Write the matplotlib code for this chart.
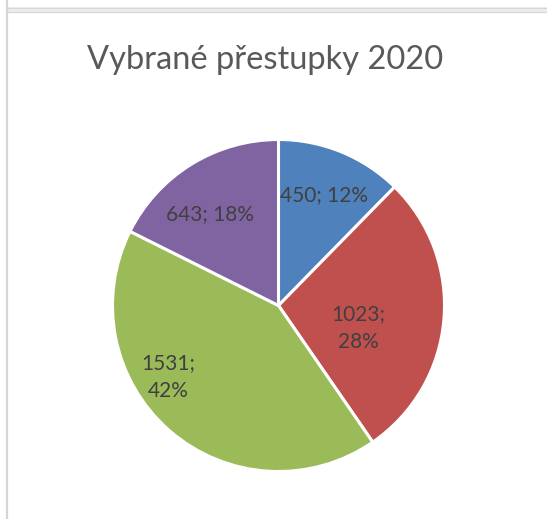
import numpy as np
import matplotlib
matplotlib.use('Agg')
import matplotlib.pyplot as plt
from matplotlib.lines import Line2D
from matplotlib.patches import Rectangle

title = 'Vybrané přestupky 2020'
values = [450, 1023, 1531, 643]
percents = [12, 28, 42, 18]
colors = ['#4F81BD', '#C0504D', '#9BBB59', '#8064A2']
# label placement (fraction of radius, angle shift from wedge middle in degrees)
label_r = [0.72, 0.50, 0.79, 0.69]
label_shift = [0, -11, -16, 5]
label_wrap = [False, True, True, False]

plt.rcParams['font.family'] = ['Lato', 'DejaVu Sans']

W, H = 547, 519
fig = plt.figure(figsize=(W / 100, H / 100), dpi=100)

# sheet frame lines
fig.add_artist(Rectangle((7 / W, 1 - 12 / H), 1, 5 / H, transform=fig.transFigure,
                         facecolor='#eeeeee', edgecolor='none'))
for yy in (7.5, 11.5):
    fig.add_artist(Line2D([7 / W, 1], [1 - yy / H] * 2, transform=fig.transFigure,
                          color='#d6d6d6', lw=0.9))
fig.add_artist(Line2D([6.5 / W] * 2, [0, 1], transform=fig.transFigure,
                      color='#d6d6d6', lw=1.6))

cx, cy, r = 278.5, 305.5, 166
ax = fig.add_axes([(cx - r) / W, (H - cy - r) / H, 2 * r / W, 2 * r / H])
wedges, _ = ax.pie(values, colors=colors, startangle=90, counterclock=False,
                   wedgeprops=dict(edgecolor='white', linewidth=2.2))
ax.set_xlim(-1, 1)
ax.set_ylim(-1, 1)
ax.axis('off')

for w, v, p, lr, sh, wrap in zip(wedges, values, percents, label_r, label_shift, label_wrap):
    mid = np.deg2rad((w.theta1 + w.theta2) / 2 + sh)
    sep = '\n' if wrap else ' '
    ax.text(lr * np.cos(mid), lr * np.sin(mid), f'{v};{sep}{p}%', ha='center', va='center',
            fontsize=15, color='#404040', linespacing=1.5)

fig.text(265 / W, 1 - 60 / H, title, ha='center', va='center', fontsize=23.5, color='#595959')

fig.savefig('out.png', dpi=100, facecolor='white')
